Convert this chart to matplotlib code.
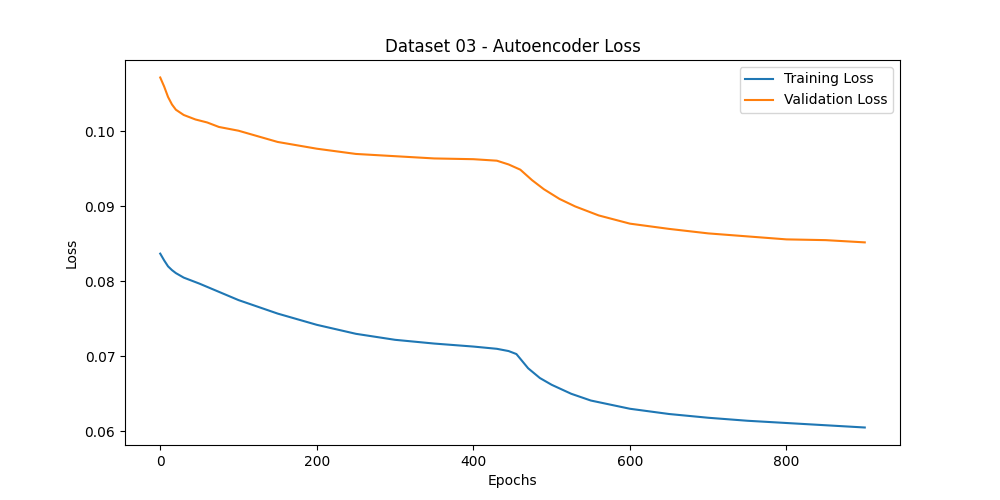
import matplotlib
matplotlib.use("Agg")
import matplotlib.pyplot as plt

epochs = [0, 5, 10, 15, 20, 30, 50, 75, 100, 150, 200, 250, 300, 350, 400, 430, 445, 455, 470, 485, 500, 525, 550, 600, 650, 700, 750, 800, 850, 900]
train_loss = [0.0837, 0.0828, 0.0820, 0.0815, 0.0811, 0.0805, 0.0797, 0.0786, 0.0775, 0.0757, 0.0742, 0.0730, 0.0722, 0.0717, 0.0713, 0.0710, 0.0707, 0.0703, 0.0684, 0.0671, 0.0662, 0.0650, 0.0641, 0.0630, 0.0623, 0.0618, 0.0614, 0.0611, 0.0608, 0.0605]

val_epochs = [0, 5, 10, 15, 20, 30, 45, 60, 75, 100, 150, 200, 250, 300, 350, 400, 430, 445, 460, 475, 490, 510, 530, 560, 600, 650, 700, 750, 800, 850, 900]
val_loss = [0.1072, 0.1060, 0.1046, 0.1036, 0.1029, 0.1022, 0.1016, 0.1012, 0.1006, 0.1001, 0.0986, 0.0977, 0.0970, 0.0967, 0.0964, 0.0963, 0.0961, 0.0956, 0.0949, 0.0935, 0.0923, 0.0910, 0.0900, 0.0888, 0.0877, 0.0870, 0.0864, 0.0860, 0.0856, 0.0855, 0.0852]

fig, ax = plt.subplots(figsize=(10, 5), dpi=100)
ax.plot(epochs, train_loss, label="Training Loss")
ax.plot(val_epochs, val_loss, label="Validation Loss")
ax.set_title("Dataset 03 - Autoencoder Loss")
ax.set_xlabel("Epochs")
ax.set_ylabel("Loss")
ax.legend()
fig.savefig("out.png")
